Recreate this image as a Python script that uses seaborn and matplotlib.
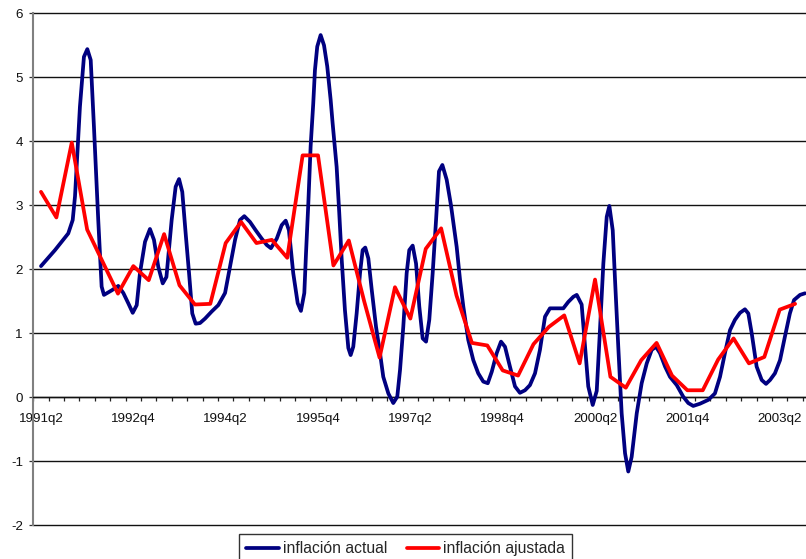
import numpy as np
import pandas as pd
import matplotlib
matplotlib.use("Agg")
import matplotlib.pyplot as plt
import seaborn as sns

# ---------------- data ----------------
tick_labels = ["1991q2", "1992q4", "1994q2", "1995q4", "1997q2",
               "1998q4", "2000q2", "2001q4", "2003q2"]
tick_quarters = [0, 6, 12, 18, 24, 30, 36, 42, 48]   # quarter index of each label

# inflación ajustada (quarterly, 1991q2 .. 2003q3)
adjusted = [3.21, 2.81, 3.98, 2.62, 2.12, 1.62, 2.05, 1.83, 2.55, 1.75,
            1.45, 1.46, 2.41, 2.74, 2.41, 2.46, 2.18, 3.78, 3.78, 2.06,
            2.45, 1.50, 0.62, 1.72, 1.23, 2.32, 2.64, 1.59, 0.85, 0.81,
            0.42, 0.34, 0.83, 1.10, 1.28, 0.53, 1.84, 0.32, 0.15, 0.58,
            0.85, 0.34, 0.11, 0.11, 0.59, 0.92, 0.53, 0.63, 1.37, 1.46]

# inflación actual (time in quarters since 1991q2)
actual_t = [0.00, 0.91, 1.77, 2.06, 2.21, 2.53, 2.79, 3.01, 3.23, 3.44,
            3.72, 3.94, 4.09, 4.59, 5.02, 5.35, 5.67, 5.96, 6.22, 6.43,
            6.76, 7.08, 7.34, 7.62, 7.91, 8.15, 8.49, 8.75, 8.97, 9.18,
            9.40, 9.62, 9.83, 10.05, 10.33, 10.66, 11.09, 11.52, 11.96, 12.28,
            12.61, 12.93, 13.21, 13.58, 13.95, 14.34, 14.67, 14.94, 15.32, 15.64,
            15.90, 16.11, 16.39, 16.68, 16.89, 17.11, 17.22, 17.37, 17.52, 17.69,
            17.80, 17.95, 18.17, 18.39, 18.60, 18.82, 18.95, 19.21, 19.38, 19.54,
            19.75, 19.97, 20.12, 20.29, 20.51, 20.73, 20.90, 21.07, 21.27, 21.49,
            21.77, 22.03, 22.24, 22.57, 22.89, 23.15, 23.33, 23.54, 23.76, 23.93,
            24.15, 24.37, 24.58, 24.80, 25.02, 25.23, 25.45, 25.67, 25.86, 26.08,
            26.36, 26.64, 27.01, 27.23, 27.44, 27.76, 28.09, 28.41, 28.74, 29.03,
            29.29, 29.61, 29.89, 30.15, 30.47, 30.80, 31.12, 31.45, 31.77, 32.10,
            32.42, 32.75, 33.07, 33.51, 33.94, 34.26, 34.59, 34.81, 35.13, 35.35,
            35.56, 35.85, 36.11, 36.32, 36.54, 36.76, 36.93, 37.15, 37.30, 37.51,
            37.73, 37.95, 38.16, 38.38, 38.71, 39.03, 39.36, 39.68, 39.96, 40.22,
            40.55, 40.87, 41.31, 41.73, 42.06, 42.38, 42.82, 43.36, 43.79, 44.12,
            44.44, 44.77, 45.09, 45.42, 45.74, 45.96, 46.18, 46.50, 46.83, 47.11,
            47.37, 47.69, 48.02, 48.34, 48.66, 48.93, 49.32, 49.64]
actual_v = [2.05, 2.30, 2.56, 2.77, 3.14, 4.54, 5.32, 5.44, 5.27, 4.23,
            2.77, 1.73, 1.60, 1.67, 1.74, 1.63, 1.47, 1.32, 1.44, 1.94,
            2.43, 2.63, 2.46, 2.04, 1.78, 1.88, 2.77, 3.29, 3.41, 3.21,
            2.56, 1.94, 1.31, 1.15, 1.16, 1.23, 1.34, 1.44, 1.63, 2.04,
            2.46, 2.77, 2.83, 2.74, 2.61, 2.48, 2.38, 2.33, 2.48, 2.69,
            2.76, 2.61, 1.94, 1.47, 1.35, 1.63, 2.25, 3.03, 3.92, 4.59,
            5.11, 5.48, 5.66, 5.50, 5.17, 4.65, 4.28, 3.60, 2.88, 2.15,
            1.36, 0.77, 0.66, 0.79, 1.31, 1.94, 2.30, 2.34, 2.17, 1.68,
            1.10, 0.69, 0.32, 0.06, -0.09, 0.01, 0.43, 1.10, 1.94, 2.30,
            2.37, 2.09, 1.42, 0.92, 0.87, 1.21, 1.94, 2.77, 3.53, 3.63,
            3.40, 3.00, 2.35, 1.83, 1.42, 0.90, 0.58, 0.375, 0.245, 0.22,
            0.40, 0.69, 0.87, 0.79, 0.48, 0.17, 0.07, 0.11, 0.19, 0.375,
            0.74, 1.26, 1.39, 1.39, 1.39, 1.49, 1.57, 1.60, 1.45, 0.79,
            0.17, -0.12, 0.10, 1.05, 2.09, 2.82, 2.99, 2.61, 1.83, 0.79,
            -0.25, -0.875, -1.16, -0.93, -0.25, 0.22, 0.53, 0.74, 0.79, 0.69,
            0.48, 0.32, 0.19, 0.01, -0.09, -0.135, -0.10, -0.04, 0.06, 0.32,
            0.69, 1.05, 1.21, 1.32, 1.375, 1.31, 1.00, 0.48, 0.27, 0.21,
            0.27, 0.375, 0.58, 0.95, 1.31, 1.52, 1.60, 1.625]

# ---------------- figure ----------------
sns.set_theme(style="white")
plt.rcParams["font.family"] = ["Liberation Sans", "DejaVu Sans"]

W, H = 806, 559
fig = plt.figure(figsize=(W / 100, H / 100), dpi=100)
fig.patch.set_facecolor("white")
ax = fig.add_axes([33.3 / W, 1 - 525.3 / H, (W - 33.3) / W, 512 / H])
ax.set_facecolor("white")

df_act = pd.DataFrame({"t": actual_t, "v": actual_v})
df_adj = pd.DataFrame({"t": np.arange(len(adjusted)), "v": adjusted})

sns.lineplot(data=df_act, x="t", y="v", ax=ax, color="#000080", lw=2.7,
             estimator=None, sort=False, label="inflación actual", zorder=3)
sns.lineplot(data=df_adj, x="t", y="v", ax=ax, color="#FF0000", lw=2.7,
             estimator=None, sort=False, label="inflación ajustada", zorder=4)

ax.set_xlim(-0.5, -0.5 + (W - 33.3) / 15.39)
ax.set_ylim(-2, 6)
ax.set_xlabel("")
ax.set_ylabel("")

# y axis
ax.set_yticks(range(-2, 7))
ax.set_yticklabels([str(v) for v in range(-2, 7)])
ax.yaxis.grid(True, color="#111111", lw=1.0, zorder=0)
for gl in ax.get_ygridlines():
    gl.set_clip_on(False)
ax.tick_params(axis="y", which="major", direction="out", length=3, width=0.9,
               color="#333333", pad=4.5, labelsize=9.6, labelcolor="#111111", left=True)

# x axis at y = 0
ax.spines["bottom"].set_position(("data", 0))
ax.spines["bottom"].set_color("#111111")
ax.spines["bottom"].set_linewidth(1.0)
ax.spines["left"].set_color("#808080")
ax.spines["left"].set_linewidth(1.5)
ax.spines["top"].set_visible(False)
ax.spines["right"].set_visible(False)
ax.set_xticks(tick_quarters)
ax.set_xticklabels(tick_labels)
ax.set_xticks(np.arange(-0.5, 50.5, 1), minor=True)
ax.tick_params(axis="x", which="major", length=0, pad=11, labelsize=9.6,
               labelcolor="#111111", bottom=True)
ax.tick_params(axis="x", which="minor", direction="out", length=3.2, width=0.9,
               color="#222222", bottom=True)

# legend
ax.get_legend().remove()
handles, labels = ax.get_legend_handles_labels()
F = 15.6
leg = fig.legend(handles, labels, loc="upper left",
                 bbox_to_anchor=(239.3 / W, 1 - 534.3 / H),
                 bbox_transform=fig.transFigure, ncol=2, fontsize=11.3,
                 frameon=True, fancybox=False, shadow=False,
                 handlelength=32 / F, handletextpad=4 / F, columnspacing=20 / F,
                 borderpad=0.45, borderaxespad=0)
leg.get_frame().set_edgecolor("black")
leg.get_frame().set_linewidth(1.0)
for line in leg.get_lines():
    line.set_linewidth(2.7)

fig.savefig("out.png", dpi=100)
